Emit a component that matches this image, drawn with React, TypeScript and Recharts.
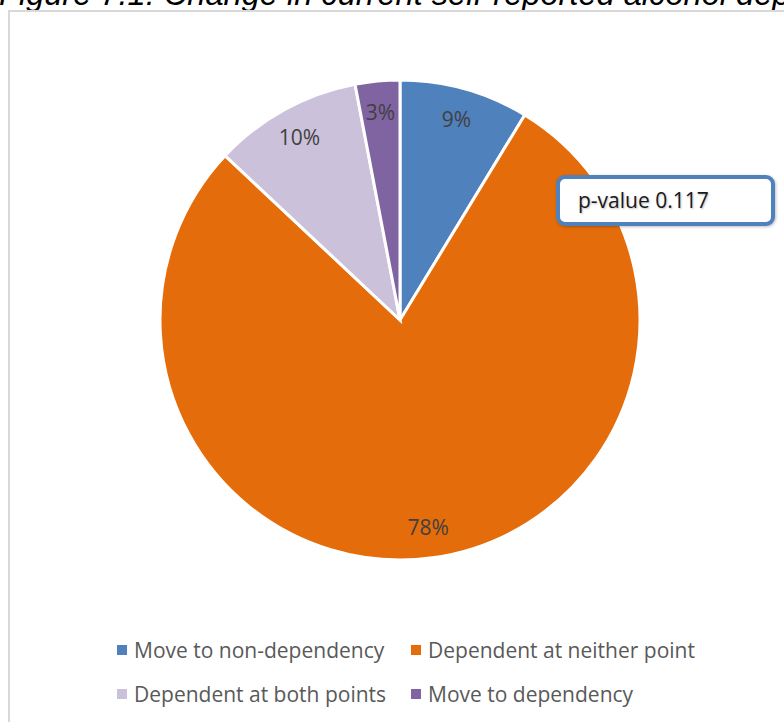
import React from 'react';
import { PieChart, Pie, Cell, Legend } from 'recharts';

const categories = ['Move to non-dependency', 'Dependent at neither point', 'Dependent at both points', 'Move to dependency'];
const shares = [8.7, 78.3, 10.0, 3.0];
const colors = ['#4f81bd', '#e46c0a', '#ccc1da', '#8064a2'];

const titleText = 'Figure 7.1: Change in current self-reported alcohol dependency';
const noteText = 'p-value 0.117';

const pieData = categories.map((name, i) => ({ name, value: shares[i] }));

const RADIAN = Math.PI / 180;
const FONT = '"Open Sans", sans-serif';

const renderLabel = (props: any) => {
  const { cx, cy, midAngle, outerRadius, percent } = props;
  const r = outerRadius * 0.87;
  const x = cx + r * Math.cos(-midAngle * RADIAN);
  const y = cy + r * Math.sin(-midAngle * RADIAN);
  return (
    <text x={x} y={y} fill="#404040" fontSize={21} fontFamily={FONT} textAnchor="middle" dominantBaseline="central">
      {`${(percent * 100).toFixed(0)}%`}
    </text>
  );
};

// legend keeps the series order (recharts sorts its payload by name)
const renderLegend = () => (
  <div
    style={{
      display: 'grid',
      gridTemplateColumns: '294px 330px',
      rowGap: 18,
      paddingLeft: 117,
      fontFamily: FONT,
      fontSize: 21,
      color: '#595959',
    }}
  >
    {categories.map((name, i) => (
      <div key={`leg-${i}`} style={{ display: 'flex', alignItems: 'center', height: 26, whiteSpace: 'nowrap' }}>
        <span style={{ width: 10, height: 10, background: colors[i], marginRight: 7, flex: 'none' }} />
        <span>{name}</span>
      </div>
    ))}
  </div>
);

export default function App() {
  return (
    <div style={{ position: 'absolute', left: 0, top: 0, width: 784, height: 722, overflow: 'hidden', background: '#fff' }}>
      <svg width={784} height={20} style={{ position: 'absolute', left: 0, top: 0 }}>
        <text x={-1} y={4.5} fontFamily='"Liberation Sans", Arial, sans-serif' fontStyle="italic" fontSize={32.6} fill="#000">
          {titleText}
        </text>
      </svg>
      <div
        style={{
          position: 'absolute',
          left: 8,
          top: 10,
          width: 900,
          height: 900,
          border: '2px solid #d9d9d9',
          boxSizing: 'border-box',
        }}
      />
      <div style={{ position: 'absolute', left: 0, top: 0 }}>
        <PieChart width={784} height={722} margin={{ top: 0, right: 0, bottom: 0, left: 0 }}>
          <Pie
            data={pieData}
            dataKey="value"
            nameKey="name"
            cx={400}
            cy={320}
            outerRadius={240}
            startAngle={90}
            endAngle={-270}
            stroke="#ffffff"
            strokeWidth={3}
            label={renderLabel}
            labelLine={false}
            isAnimationActive={false}
          >
            {pieData.map((entry, index) => (
              <Cell key={`cell-${index}`} fill={colors[index]} />
            ))}
          </Pie>
          <Legend content={renderLegend} wrapperStyle={{ position: 'absolute', top: 637, left: 0, width: 784 }} />
        </PieChart>
      </div>
      <div
        style={{
          position: 'absolute',
          left: 556,
          top: 175,
          width: 219,
          height: 51,
          boxSizing: 'border-box',
          border: '4px solid #4f81bd',
          borderRadius: 9,
          background: '#fff',
          boxShadow: '1px 1px 3px rgba(0,0,0,0.25)',
          fontFamily: FONT,
          fontSize: 21,
          color: '#1a1a1a',
          paddingLeft: 18,
          lineHeight: '43px',
          textShadow: '1px 1px 2px rgba(0,0,0,0.25)',
        }}
      >
        {noteText}
      </div>
    </div>
  );
}
